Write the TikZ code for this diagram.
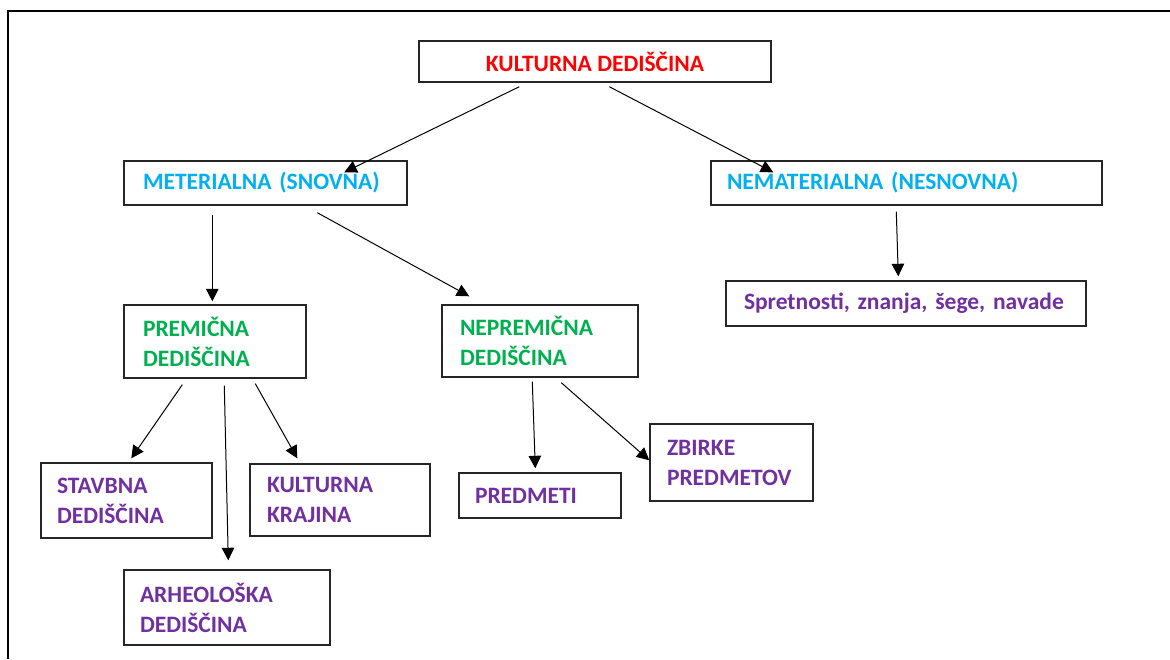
\documentclass[tikz,border=0pt]{standalone}
\usepackage{fontspec}
\setmainfont{Carlito}
\usetikzlibrary{calc,arrows.meta}
\definecolor{kred}{RGB}{255,0,0}
\definecolor{kblue}{RGB}{0,176,240}
\definecolor{kgreen}{RGB}{0,176,80}
\definecolor{kpurple}{RGB}{112,48,160}
\tikzset{
  box/.style={draw=black!85, line width=1.4pt, inner ysep=0pt, align=left,
    font=\bfseries\fontsize{23.5}{30}\selectfont},
  arr/.style={line width=1pt, -{Triangle[length=12.5pt,width=12.5pt]}},
}
\newcommand{\bx}[7]{% name, cx, cy, W, H, pad, text
  \node[box, minimum width=#4pt, minimum height=#5pt, inner xsep=#6pt,
        text width={#4pt-2*#6pt}] (#1) at (#2,#3) {#7};}
\begin{document}
\begin{tikzpicture}[x=1pt,y=-1pt]
\useasboundingbox (0,0) rectangle (1170,659);
\draw[line width=2pt] (8,659) -- (8,11) -- (1170,11);

\node[box, minimum width=352pt, minimum height=41pt, align=center, text=kred] (kd) at (595,61.5) {KULTURNA DEDIŠČINA};
\bx{met}{265.5}{183}{283}{44}{19}{\textcolor{kblue}{METERIALNA (SNOVNA)}}
\bx{nem}{906.5}{183}{391}{44}{16}{\textcolor{kblue}{NEMATERIALNA (NESNOVNA)}}
\bx{spr}{906}{303.5}{360}{45}{18}{\textcolor{kpurple}{Spretnosti, znanja, šege, navade}}
\bx{prem}{215}{341.5}{182}{73}{19}{\textcolor{kgreen}{PREMIČNA\\DEDIŠČINA}}
\bx{neprem}{540}{341}{196}{72}{18}{\textcolor{kgreen}{NEPREMIČNA\\DEDIŠČINA}}
\bx{stav}{126.5}{500.5}{171}{75}{16}{\textcolor{kpurple}{STAVBNA\\DEDIŠČINA}}
\bx{kk}{340}{500}{180}{72}{17}{\textcolor{kpurple}{KULTURNA\\KRAJINA}}
\bx{arh}{227}{607.5}{206}{75}{16}{\textcolor{kpurple}{ARHEOLOŠKA\\DEDIŠČINA}}
\bx{pred}{540}{495.5}{162}{45}{16}{\textcolor{kpurple}{PREDMETI}}
\bx{zb}{731.5}{462.5}{163}{77}{17}{\textcolor{kpurple}{ZBIRKE\\PREDMETOV}}

\draw[arr] ($(kd.south west)+(101,4)$) -- ($(met.north west)+(221,12)$);
\draw[arr] ($(kd.south west)+(191,4)$) -- ($(nem.north west)+(63,12)$);
\draw[arr] ($(met.south west)+(89,9)$) -- ($(prem.north west)+(89,-3)$);
\draw[arr] ($(met.south west)+(194,7)$) -- ($(neprem.north west)+(28,-8)$);
\draw[arr] ($(nem.south west)+(186,6)$) -- ($(spr.north west)+(173,-4)$);
\draw[arr] ($(prem.south west)+(59,6)$) -- ($(stav.north west)+(91,-4)$);
\draw[arr] ($(prem.south west)+(101,7)$) -- ($(arh.north west)+(105,-9)$);
\draw[arr] ($(prem.south west)+(132,5)$) -- ($(kk.north west)+(48,-5)$);
\draw[arr] ($(neprem.south west)+(91,4)$) -- ($(pred.north west)+(77,-4)$);
\draw[arr] ($(neprem.south west)+(120,5)$) -- ($(zb.north west)+(0,37)$);
\end{tikzpicture}
\end{document}
